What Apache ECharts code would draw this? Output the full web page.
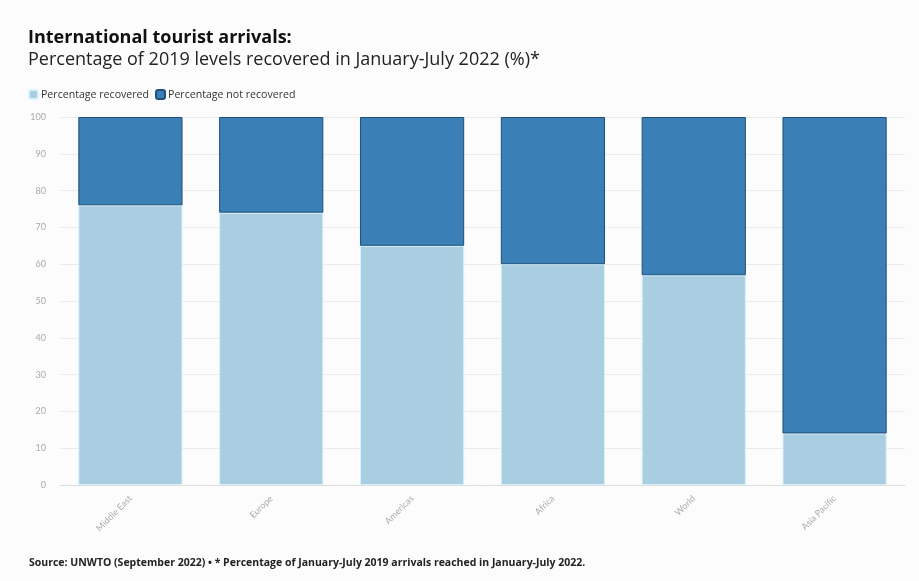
<!DOCTYPE html>
<html>
<head>
<meta charset="utf-8">
<script src="https://cdn.jsdelivr.net/npm/echarts@6/dist/echarts.min.js"></script>
<style>
  html, body { margin: 0; padding: 0; background: #fcfcfc; }
  #chart { width: 919px; height: 581px; }
</style>
</head>
<body>
<div id="chart"></div>
<script>
// Regions, ordered by recovery share
const categories = ['Middle East', 'Europe', 'Americas', 'Africa', 'World', 'Asia Pacific'];
// Share of January-July 2019 arrivals reached in January-July 2022 (%)
const recovered = [76, 74, 65, 60, 57, 14];
const notRecovered = [24, 26, 35, 40, 43, 86];
const yTicks = [0, 10, 20, 30, 40, 50, 60, 70, 80, 90, 100];

const chart = echarts.init(document.getElementById('chart'), null, { renderer: 'canvas' });

const font = 'Lato, "Open Sans", sans-serif';
const headFont = '"Open Sans", Lato, sans-serif';

chart.setOption({
  backgroundColor: '#fcfcfc',
  animation: false,
  title: [
    {
      text: 'International tourist arrivals:',
      left: 23, top: 24,
      textStyle: { fontFamily: headFont, fontSize: 18, fontWeight: 'bold', color: '#111' }
    },
    {
      text: 'Percentage of 2019 levels recovered in January-July 2022 (%)*',
      left: 23, top: 46,
      textStyle: { fontFamily: headFont, fontSize: 18, fontWeight: 'normal', color: '#222' }
    },
    {
      text: 'Source: UNWTO (September 2022) • * Percentage of January-July 2019 arrivals reached in January-July 2022.',
      left: 24, top: 553,
      textStyle: { fontFamily: headFont, fontSize: 10.5, fontWeight: 'bold', color: '#222' }
    }
  ],
  legend: {
    left: 23, top: 84,
    itemWidth: 9, itemHeight: 9, itemGap: 6,
    icon: 'roundRect',
    textStyle: { fontFamily: headFont, fontSize: 10.6, color: '#333', padding: [0, 0, 0, -2] },
    data: ['Percentage recovered', 'Percentage not recovered']
  },
  grid: { left: 60, right: 14, top: 117, bottom: 96 },
  xAxis: {
    type: 'category',
    data: categories,
    axisLine: { lineStyle: { color: '#dddddd' } },
    axisTick: { show: false },
    axisLabel: { rotate: 45, color: '#aaaaaa', fontFamily: font, fontSize: 9, margin: 12 }
  },
  yAxis: {
    type: 'value',
    min: yTicks[0], max: yTicks[yTicks.length - 1], interval: 10,
    axisLine: { show: false },
    axisTick: { show: false },
    axisLabel: { color: '#aaaaaa', fontFamily: font, fontSize: 9, margin: 14 },
    splitLine: { lineStyle: { color: '#ebebeb' } }
  },
  series: [
    {
      name: 'Percentage recovered',
      type: 'bar',
      stack: 'total',
      barWidth: '74%',
      data: recovered,
      itemStyle: { color: '#a9cee2', borderColor: '#d8f1fb', borderWidth: 1 }
    },
    {
      name: 'Percentage not recovered',
      type: 'bar',
      stack: 'total',
      barWidth: '74%',
      data: notRecovered,
      itemStyle: { color: '#3a7fb6', borderColor: '#1f4f7a', borderWidth: 1 }
    }
  ]
});
</script>
</body>
</html>
